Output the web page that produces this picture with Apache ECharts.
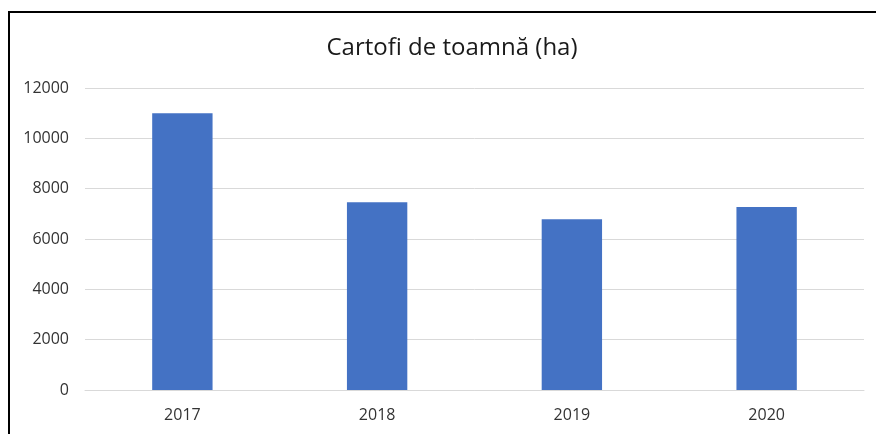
<!DOCTYPE html>
<html>
<head>
<meta charset="utf-8">
<script src="https://cdn.jsdelivr.net/npm/echarts@6/dist/echarts.min.js"></script>
<style>
  html, body { margin: 0; padding: 0; background: #fff; }
  #chart { width: 876px; height: 434px; }
</style>
</head>
<body>
<div id="chart"></div>
<script>
const years = ['2017', '2018', '2019', '2020'];
const hectares = [11000, 7460, 6780, 7270];
const titleText = 'Cartofi de toamnă (ha)';

const chart = echarts.init(document.getElementById('chart'));

const option = {
  backgroundColor: '#fff',
  animation: false,
  title: {
    text: titleText,
    left: 447,
    top: 31,
    textAlign: 'center',
    textStyle: {
      fontFamily: 'Open Sans',
      fontSize: 24,
      fontWeight: 'normal',
      color: '#1a1a1a'
    }
  },
  graphic: [{
    type: 'polyline',
    shape: { points: [[9, 434], [9, 12], [876, 12]] },
    style: { stroke: '#000', lineWidth: 2, fill: null }
  }],
  grid: { left: 85, right: 12, top: 88, bottom: 44 },
  xAxis: {
    type: 'category',
    data: years,
    axisLine: { lineStyle: { color: '#d9d9d9', width: 1 } },
    axisTick: { show: false },
    axisLabel: {
      margin: 17,
      fontFamily: 'Open Sans',
      fontSize: 16,
      color: '#333'
    }
  },
  yAxis: {
    type: 'value',
    min: 0,
    max: 12000,
    interval: 2000,
    axisLine: { show: false },
    axisTick: { show: false },
    splitLine: { lineStyle: { color: '#d9d9d9', width: 1 } },
    axisLabel: {
      margin: 16,
      fontFamily: 'Open Sans',
      fontSize: 16,
      color: '#333',
      formatter: v => String(v)
    }
  },
  series: [{
    type: 'bar',
    data: hectares,
    barWidth: '31%',
    itemStyle: { color: '#4472C4' }
  }]
};

chart.setOption(option);
</script>
</body>
</html>
